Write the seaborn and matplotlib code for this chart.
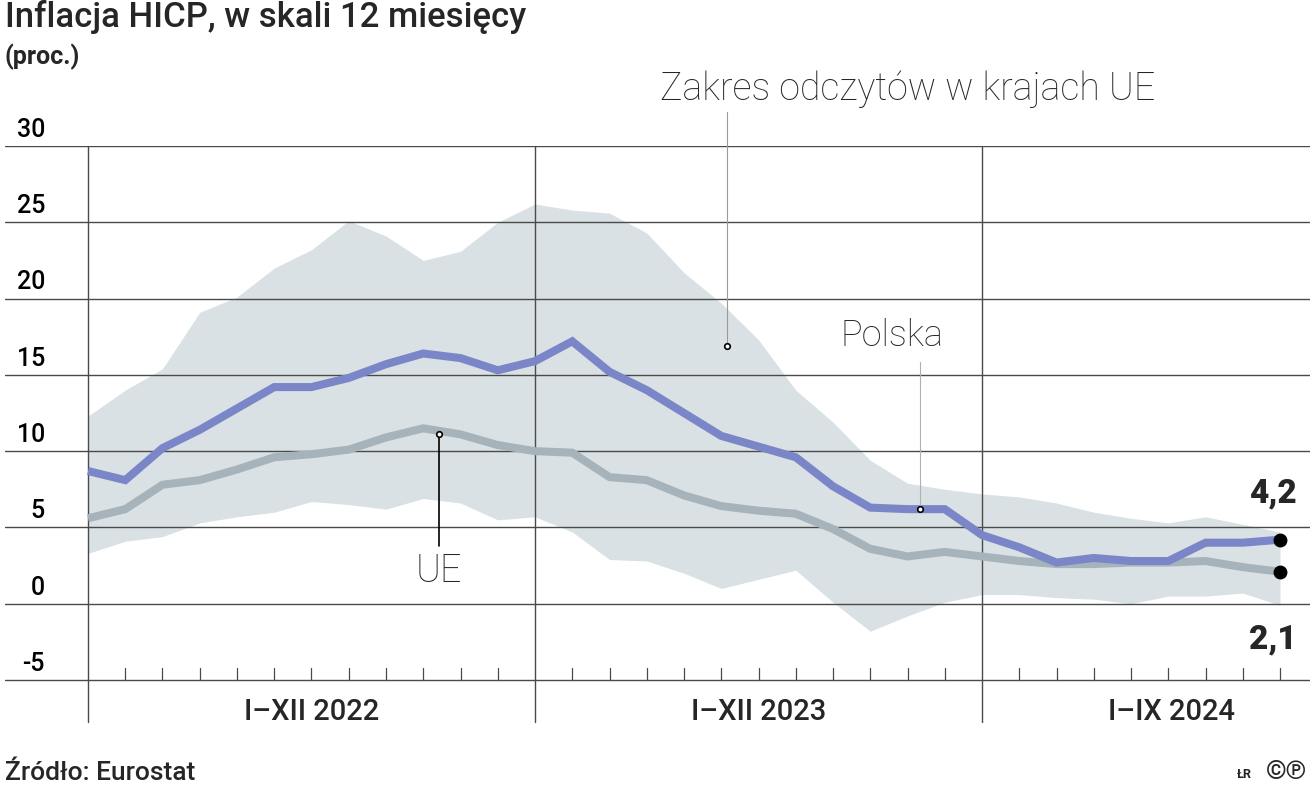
"""
Inflacja HICP w Polsce i w UE, z zakresem odczytów w krajach UE.
"""

import numpy as np
import pandas as pd
import seaborn as sns
import matplotlib.pyplot as plt
import matplotlib.transforms as mtransforms

# Monthly data, I 2022 - IX 2024 (index 0..32)
months = list(range(33))
polska = [8.7, 8.1, 10.2, 11.4, 12.8, 14.2, 14.2, 14.8, 15.7, 16.4, 16.1, 15.3,
          15.9, 17.2, 15.2, 14.0, 12.5, 11.0, 10.3, 9.6, 7.7, 6.3, 6.2, 6.2,
          4.5, 3.7, 2.7, 3.0, 2.8, 2.8, 4.0, 4.0, 4.2]
ue = [5.6, 6.2, 7.8, 8.1, 8.8, 9.6, 9.8, 10.1, 10.9, 11.5, 11.1, 10.4,
      10.0, 9.9, 8.3, 8.1, 7.1, 6.4, 6.1, 5.9, 4.9, 3.6, 3.1, 3.4,
      3.1, 2.8, 2.6, 2.6, 2.7, 2.7, 2.8, 2.4, 2.1]
zakres_max = [12.3, 14.0, 15.4, 19.1, 20.1, 22.0, 23.2, 25.1, 24.1, 22.5, 23.1, 25.0,
              26.2, 25.8, 25.6, 24.3, 21.7, 19.7, 17.3, 14.0, 11.9, 9.4, 7.9, 7.5,
              7.2, 7.0, 6.6, 6.0, 5.6, 5.3, 5.7, 5.2, 4.7]
zakres_min = [3.3, 4.1, 4.4, 5.3, 5.7, 6.0, 6.7, 6.5, 6.2, 6.9, 6.6, 5.5,
              5.7, 4.7, 2.9, 2.8, 2.0, 1.0, 1.6, 2.2, 0.1, -1.8, -0.8, 0.1,
              0.6, 0.6, 0.4, 0.3, 0.0, 0.5, 0.5, 0.7, -0.1]
y_ticks = [30, 25, 20, 15, 10, 5, 0, -5]
year_labels = ["I–XII 2022", "I–XII 2023", "I–IX 2024"]
year_label_pos = [6, 18, 29.1]
year_starts = [0, 12, 24]

df = pd.DataFrame({
    "miesiac": months * 2,
    "wartosc": polska + ue,
    "seria": ["Polska"] * 33 + ["UE"] * 33,
})

sns.set_style("white")
plt.rcParams["font.family"] = ["Roboto", "DejaVu Sans"]

BLUE = "#7b86c8"
GREY = "#a7b3bb"
BAND = "#d9e1e4"
GRID = "#4a4a4a"

fig = plt.figure(figsize=(13.13, 8.08), dpi=100)
ax = fig.add_axes([5 / 1313, 86 / 808, 1305 / 1313, 576 / 808])
ax.set_xlim(-2.228, 32.805)
ax.set_ylim(-7.75, 30)
ax.axis("off")

# band with the range of readings across EU countries
ax.fill_between(months, zakres_min, zakres_max, color=BAND, lw=0, zorder=1)

# grid
for v in y_ticks:
    ax.axhline(v, color=GRID, lw=1.0, zorder=2)
for m in year_starts:
    ax.plot([m, m], [30, -7.75], color=GRID, lw=1.0, zorder=2, clip_on=False)
for m in months:
    if m not in year_starts:
        ax.plot([m, m], [-5, -5 + 0.8], color=GRID, lw=0.9, zorder=2)

sns.lineplot(data=df, x="miesiac", y="wartosc", hue="seria",
             palette={"Polska": BLUE, "UE": GREY}, hue_order=["UE", "Polska"],
             linewidth=5.8, legend=False, ax=ax, zorder=3)
for line in ax.lines[-2:]:
    line.set_solid_joinstyle("miter")
    line.set_solid_capstyle("butt")

ax.plot([months[-1]] * 2, [polska[-1], ue[-1]], "o", color="black",
        markersize=9, zorder=5, clip_on=False)

# y labels sit above the gridlines
tr_y = mtransforms.blended_transform_factory(fig.transFigure, ax.transData)
for v in y_ticks:
    ax.text(45 / 1313, v + 0.6, str(v), transform=tr_y, ha="right",
            va="baseline", fontsize=18, fontweight="medium", color="black")

for lab, pos in zip(year_labels, year_label_pos):
    ax.text(pos, -7.1, lab, ha="center", va="center", fontsize=21,
            fontweight="medium", clip_on=False)

# annotations
ann = dict(marker="o", markersize=4, markerfacecolor="white",
           markeredgecolor="black", markeredgewidth=1.2)
ax.plot([17.15, 17.15], [16.9, 32.2], color="#9a9a9a", lw=0.8, zorder=4,
        clip_on=False)
ax.plot([17.15], [16.9], zorder=6, **ann)
ax.text(15.36, 33.0, "Zakres odczytów w krajach UE", fontsize=27,
        fontweight="light", ha="left", va="baseline", clip_on=False)

ax.plot([22.34, 22.34], [6.2, 15.85], color="#b0b0b0", lw=0.8, zorder=4)
ax.plot([22.34], [6.2], zorder=6, **ann)
ax.text(20.19, 16.9, "Polska", fontsize=26, fontweight="light",
        ha="left", va="baseline")

ax.plot([9.42, 9.42], [3.8, 11.1], color="black", lw=1.2, zorder=4)
ax.plot([9.42], [11.1], zorder=6, **ann)
ax.text(9.42, 1.44, "UE", fontsize=27, fontweight="light",
        ha="center", va="baseline")

ax.text(32.46, 7.2, "4,2", fontsize=24, fontweight="heavy", ha="right",
        va="center", clip_on=False)
ax.text(32.46, -2.36, "2,1", fontsize=24, fontweight="heavy", ha="right",
        va="center", clip_on=False)

# titles and footer
fig.text(5 / 1313, 1 - 17 / 808, "Inflacja HICP, w skali 12 miesięcy",
         fontsize=25, fontweight="medium", ha="left", va="center")
fig.text(5 / 1313, 1 - 57 / 808, "(proc.)", fontsize=18,
         fontweight="semibold", ha="left", va="center")
fig.text(5 / 1313, 1 - 773 / 808, "Źródło: Eurostat", fontsize=19,
         fontweight="medium", ha="left", va="center")
fig.text(1252 / 1313, 1 - 775 / 808, "ŁR", fontsize=9, fontweight="bold",
         ha="right", va="center")
fig.text(1307 / 1313, 1 - 772 / 808, "©℗", fontsize=19, fontweight="bold",
         ha="right", va="center")

fig.savefig("out.png", dpi=100, facecolor="white")
